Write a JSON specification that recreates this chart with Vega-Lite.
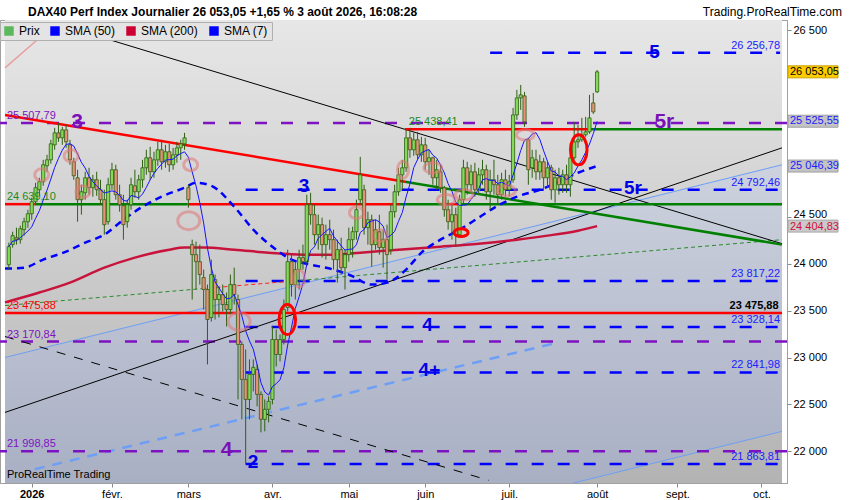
{
"$schema": "https://vega.github.io/schema/vega-lite/v6.json",
"width": 787, "height": 463,
"autosize": {"type": "none"},
"padding": {"left": 0, "top": 20, "right": 63, "bottom": 17},
"background": "white",
"config": {"view": {"stroke": "#a0a0a0", "strokeWidth": 1}, "font": "Liberation Sans", "text": {"font": "Liberation Sans"}},
"resolve": {"axis": {"x": "independent", "y": "independent"}},
"datasets": {
"candles": [
{"i":-6,"o":23993,"h":24228,"l":23940,"c":24185},
{"i":-5,"o":24207,"h":24345,"l":24175,"c":24303},
{"i":-4,"o":24281,"h":24388,"l":24207,"c":24260},
{"i":-3,"o":24260,"h":24410,"l":24217,"c":24377},
{"i":-2,"o":24367,"h":24495,"l":24303,"c":24452},
{"i":-1,"o":24452,"h":24580,"l":24388,"c":24537},
{"i":0,"o":24537,"h":24708,"l":24473,"c":24665},
{"i":1,"o":24665,"h":24868,"l":24633,"c":24815},
{"i":2,"o":24793,"h":24921,"l":24729,"c":24879},
{"i":3,"o":24879,"h":25113,"l":24836,"c":25060},
{"i":4,"o":25049,"h":25167,"l":24985,"c":25113},
{"i":5,"o":25113,"h":25327,"l":25071,"c":25284},
{"i":6,"o":25273,"h":25455,"l":25220,"c":25401},
{"i":7,"o":25401,"h":25508,"l":25305,"c":25348},
{"i":8,"o":25348,"h":25465,"l":25273,"c":25433},
{"i":9,"o":25433,"h":25487,"l":25241,"c":25305},
{"i":10,"o":25273,"h":25327,"l":25060,"c":25113},
{"i":11,"o":25092,"h":25135,"l":24900,"c":24943},
{"i":12,"o":24921,"h":25007,"l":24452,"c":24687},
{"i":13,"o":24687,"h":24847,"l":24527,"c":24772},
{"i":14,"o":24761,"h":24985,"l":24687,"c":24921},
{"i":15,"o":24921,"h":25028,"l":24740,"c":24815},
{"i":16,"o":24815,"h":24953,"l":24719,"c":24900},
{"i":17,"o":24900,"h":24985,"l":24729,"c":24793},
{"i":18,"o":24793,"h":24900,"l":24633,"c":24687},
{"i":19,"o":24687,"h":24793,"l":24313,"c":24420},
{"i":20,"o":24452,"h":24921,"l":24420,"c":24847},
{"i":21,"o":24847,"h":25081,"l":24793,"c":25007},
{"i":22,"o":25007,"h":25060,"l":24687,"c":24740},
{"i":23,"o":24740,"h":24847,"l":24559,"c":24633},
{"i":24,"o":24623,"h":24740,"l":24260,"c":24420},
{"i":25,"o":24452,"h":24687,"l":24388,"c":24633},
{"i":26,"o":24633,"h":24921,"l":24580,"c":24847},
{"i":27,"o":24836,"h":25007,"l":24708,"c":24772},
{"i":28,"o":24772,"h":24953,"l":24687,"c":24900},
{"i":29,"o":24900,"h":25113,"l":24815,"c":25028},
{"i":30,"o":25028,"h":25220,"l":24953,"c":25135},
{"i":31,"o":25135,"h":25252,"l":24900,"c":24985},
{"i":32,"o":24985,"h":25199,"l":24921,"c":25113},
{"i":33,"o":25113,"h":25305,"l":25049,"c":25220},
{"i":34,"o":25220,"h":25327,"l":25007,"c":25092},
{"i":35,"o":25092,"h":25273,"l":25028,"c":25199},
{"i":36,"o":25199,"h":25284,"l":24985,"c":25060},
{"i":37,"o":25060,"h":25241,"l":25007,"c":25167},
{"i":38,"o":25167,"h":25305,"l":25081,"c":25241},
{"i":39,"o":25241,"h":25327,"l":25113,"c":25284},
{"i":40,"o":25284,"h":25401,"l":25220,"c":25348},
{"i":41,"o":24815,"h":24847,"l":24601,"c":24687},
{"i":42,"o":24207,"h":24260,"l":23620,"c":24100},
{"i":43,"o":24100,"h":24239,"l":23727,"c":24025},
{"i":44,"o":24025,"h":24207,"l":23780,"c":23887},
{"i":45,"o":23855,"h":23940,"l":23513,"c":23727},
{"i":46,"o":23727,"h":23780,"l":22927,"c":23407},
{"i":47,"o":23428,"h":24047,"l":23385,"c":23887},
{"i":48,"o":23833,"h":23887,"l":23407,"c":23620},
{"i":49,"o":23620,"h":23759,"l":23428,"c":23673},
{"i":50,"o":23673,"h":23780,"l":23492,"c":23567},
{"i":51,"o":23567,"h":23695,"l":23332,"c":23513},
{"i":52,"o":23513,"h":23887,"l":23460,"c":23780},
{"i":53,"o":23780,"h":23961,"l":23567,"c":23673},
{"i":54,"o":23620,"h":23673,"l":22553,"c":23140},
{"i":55,"o":23140,"h":23172,"l":22340,"c":22767},
{"i":56,"o":22767,"h":23087,"l":21860,"c":22553},
{"i":57,"o":22553,"h":22980,"l":22340,"c":22820},
{"i":58,"o":22820,"h":22980,"l":22639,"c":22895},
{"i":59,"o":22873,"h":22927,"l":22479,"c":22607},
{"i":60,"o":22607,"h":22639,"l":22201,"c":22340},
{"i":61,"o":22340,"h":22553,"l":22212,"c":22447},
{"i":62,"o":22447,"h":22585,"l":22308,"c":22532},
{"i":63,"o":22553,"h":23332,"l":22500,"c":23193},
{"i":64,"o":23193,"h":23300,"l":22905,"c":23033},
{"i":65,"o":23033,"h":23247,"l":22959,"c":23193},
{"i":66,"o":23193,"h":23620,"l":23140,"c":23513},
{"i":67,"o":23535,"h":24153,"l":23492,"c":24025},
{"i":68,"o":24025,"h":24100,"l":23652,"c":23780},
{"i":69,"o":23780,"h":24025,"l":23620,"c":23940},
{"i":70,"o":23940,"h":24153,"l":23727,"c":24068},
{"i":71,"o":24068,"h":24207,"l":23940,"c":24025},
{"i":72,"o":24025,"h":24740,"l":23983,"c":24633},
{"i":73,"o":24633,"h":24761,"l":24420,"c":24527},
{"i":74,"o":24527,"h":24633,"l":24207,"c":24313},
{"i":75,"o":24313,"h":24527,"l":24153,"c":24420},
{"i":76,"o":24420,"h":24495,"l":24068,"c":24207},
{"i":77,"o":24207,"h":24420,"l":24047,"c":24313},
{"i":78,"o":24313,"h":24473,"l":24153,"c":24260},
{"i":79,"o":24260,"h":24367,"l":23940,"c":24047},
{"i":80,"o":24047,"h":24260,"l":23801,"c":24153},
{"i":81,"o":24153,"h":24281,"l":23887,"c":23961},
{"i":82,"o":23961,"h":24153,"l":23727,"c":24100},
{"i":83,"o":24100,"h":24388,"l":24025,"c":24260},
{"i":84,"o":24260,"h":24399,"l":24068,"c":24345},
{"i":85,"o":24345,"h":24687,"l":24260,"c":24580},
{"i":86,"o":24687,"h":25145,"l":24633,"c":24953},
{"i":87,"o":24793,"h":24847,"l":24313,"c":24388},
{"i":88,"o":24388,"h":24559,"l":24207,"c":24473},
{"i":89,"o":24473,"h":24527,"l":23972,"c":24207},
{"i":90,"o":24207,"h":24473,"l":24153,"c":24367},
{"i":91,"o":24345,"h":24527,"l":24100,"c":24175},
{"i":92,"o":24175,"h":24367,"l":23961,"c":24260},
{"i":93,"o":24260,"h":24420,"l":23833,"c":24100},
{"i":94,"o":24153,"h":24633,"l":24100,"c":24559},
{"i":95,"o":24559,"h":24847,"l":24495,"c":24772},
{"i":96,"o":24772,"h":25028,"l":24729,"c":24953},
{"i":97,"o":24953,"h":25113,"l":24793,"c":25028},
{"i":98,"o":25028,"h":25433,"l":24985,"c":25348},
{"i":99,"o":25348,"h":25455,"l":25135,"c":25220},
{"i":100,"o":25220,"h":25401,"l":25156,"c":25327},
{"i":101,"o":25327,"h":25412,"l":25113,"c":25167},
{"i":102,"o":25167,"h":25359,"l":25092,"c":25273},
{"i":103,"o":25273,"h":25348,"l":25007,"c":25092},
{"i":104,"o":25092,"h":25220,"l":24953,"c":25135},
{"i":105,"o":25135,"h":25145,"l":24847,"c":24921},
{"i":106,"o":24921,"h":25113,"l":24793,"c":25007},
{"i":107,"o":24985,"h":25060,"l":24761,"c":24815},
{"i":108,"o":24815,"h":24836,"l":24505,"c":24580},
{"i":109,"o":24580,"h":24687,"l":24367,"c":24452},
{"i":110,"o":24452,"h":24633,"l":24260,"c":24527},
{"i":111,"o":24527,"h":24601,"l":24185,"c":24313},
{"i":112,"o":24313,"h":24740,"l":24281,"c":24687},
{"i":113,"o":24687,"h":25113,"l":24633,"c":25028},
{"i":114,"o":25028,"h":25092,"l":24740,"c":24847},
{"i":115,"o":24847,"h":25060,"l":24772,"c":24985},
{"i":116,"o":24985,"h":25081,"l":24719,"c":24793},
{"i":117,"o":24793,"h":25028,"l":24740,"c":24953},
{"i":118,"o":24953,"h":25113,"l":24847,"c":25007},
{"i":119,"o":25007,"h":25060,"l":24687,"c":24772},
{"i":120,"o":24772,"h":25007,"l":24580,"c":24900},
{"i":121,"o":24900,"h":25113,"l":24740,"c":24847},
{"i":122,"o":24847,"h":24953,"l":24633,"c":24740},
{"i":123,"o":24740,"h":24975,"l":24687,"c":24900},
{"i":124,"o":24900,"h":25007,"l":24719,"c":24793},
{"i":125,"o":24793,"h":24953,"l":24719,"c":24879},
{"i":126,"o":24900,"h":25668,"l":24868,"c":25593},
{"i":127,"o":25593,"h":25860,"l":25540,"c":25775},
{"i":128,"o":25775,"h":25913,"l":25647,"c":25807},
{"i":129,"o":25796,"h":25839,"l":25465,"c":25519},
{"i":130,"o":25327,"h":25348,"l":24847,"c":25007},
{"i":131,"o":25028,"h":25220,"l":24921,"c":25135},
{"i":132,"o":25113,"h":25220,"l":24900,"c":24985},
{"i":133,"o":24985,"h":25167,"l":24900,"c":25092},
{"i":134,"o":25092,"h":25135,"l":24793,"c":24921},
{"i":135,"o":24921,"h":25092,"l":24815,"c":25028},
{"i":136,"o":25028,"h":25060,"l":24687,"c":24793},
{"i":137,"o":24793,"h":25007,"l":24655,"c":24921},
{"i":138,"o":24921,"h":25028,"l":24740,"c":24847},
{"i":139,"o":24847,"h":25007,"l":24761,"c":24953},
{"i":140,"o":24953,"h":25060,"l":24761,"c":24847},
{"i":141,"o":24847,"h":25220,"l":24719,"c":25135},
{"i":142,"o":25135,"h":25519,"l":25113,"c":25305},
{"i":143,"o":25305,"h":25487,"l":25241,"c":25327},
{"i":144,"o":25327,"h":25561,"l":25305,"c":25380},
{"i":145,"o":25380,"h":25572,"l":25359,"c":25412},
{"i":146,"o":25412,"h":25807,"l":25391,"c":25561},
{"i":147,"o":25721,"h":25828,"l":25604,"c":25625},
{"i":148,"o":25839,"h":26073,"l":25828,"c":26053.05}
],
"sma50": [
{"i":-7,"v":23951},{"i":-2,"v":23961},{"i":3,"v":24047},{"i":9,"v":24132},{"i":14,"v":24228},{"i":19,"v":24313},{"i":24,"v":24473},{"i":29,"v":24612},{"i":34,"v":24719},{"i":40,"v":24815},{"i":43,"v":24868},{"i":47,"v":24836},{"i":53,"v":24612},{"i":58,"v":24367},{"i":64,"v":24153},{"i":68,"v":24047},{"i":73,"v":23993},{"i":78,"v":23951},{"i":83,"v":23887},{"i":89,"v":23780},{"i":93,"v":23801},{"i":98,"v":23940},{"i":102,"v":24121},{"i":107,"v":24260},{"i":112,"v":24367},{"i":117,"v":24495},{"i":122,"v":24623},{"i":127,"v":24719},{"i":133,"v":24793},{"i":138,"v":24879},{"i":143,"v":24975},{"i":148,"v":25046.39}
],
"sma200": [
{"i":-7,"v":23590},{"i":2,"v":23695},{"i":10,"v":23801},{"i":19,"v":23961},{"i":27,"v":24068},{"i":36,"v":24153},{"i":40,"v":24175},{"i":45,"v":24175},{"i":53,"v":24153},{"i":62,"v":24121},{"i":71,"v":24100},{"i":78,"v":24100},{"i":86,"v":24121},{"i":96,"v":24153},{"i":107,"v":24185},{"i":117,"v":24217},{"i":127,"v":24260},{"i":135,"v":24303},{"i":143,"v":24356},{"i":148,"v":24404.83}
],
"channel": [{"i":-7,"top":23001,"bot":20153},{"i":196.4,"top":25060,"bot":22212}],
"purpleLevels": [{"v":25507.79,"t":"25 507,79"},{"v":23170.84,"t":"23 170,84"},{"v":21998.85,"t":"21 998,85"}],
"blueLevels": [{"v":26256.78,"a":120,"t":"26 256,78"},{"v":24792.46,"a":56,"t":"24 792,46"},{"v":23817.22,"a":56,"t":"23 817,22"},{"v":23328.14,"a":56,"t":"23 328,14"},{"v":22841.98,"a":56,"t":"22 841,98"},{"v":21863.81,"a":56,"t":"21 863,81"}],
"redSegs": [{"v":23475.88,"a":-7,"b":196.4},{"v":24639.1,"a":-7,"b":0.8},{"v":24639.1,"a":40.8,"b":96.4},{"v":24639.1,"a":108.5,"b":112.4},{"v":25438.41,"a":97.7,"b":145.5}],
"greenSegs": [{"v":24639.1,"a":0.8,"b":40.8},{"v":24639.1,"a":96.4,"b":108.5},{"v":24639.1,"a":112.4,"b":196.4},{"v":25438.41,"a":145.5,"b":196.4}],
"blackLines": [{"a":8.5,"va":26543,"b":196.4,"vb":24217},{"a":-7,"va":22414,"b":196.4,"vb":25241}],
"blackDashed": [{"a":-7,"va":23225,"b":119.6,"vb":21689}],
"redTrend": [{"a":-7,"va":25593,"b":97.7,"vb":24879}],
"greenTrend": [{"a":97.7,"va":24879,"b":196.4,"vb":24207}],
"greenDotted": [{"a":-7,"va":23556,"b":44.7,"vb":23737},{"a":66.7,"va":23812,"b":196.4,"vb":24260}],
"redDotted": [{"a":44.7,"va":23737,"b":66.7,"vb":23812}],
"blueChannel": [{"a":-7,"va":23001,"b":196.4,"vb":25060},{"a":-7,"va":20153,"b":196.4,"vb":22212}],
"blueDashedTrend": [{"a":0.8,"va":21807,"b":137.7,"vb":23161}],
"pinkLine": [{"a":-7,"va":26095,"b":2,"vb":26415}],
"pinkSmall": [{"i":2.6,"v":24953},{"i":10.3,"v":25156},{"i":13.4,"v":24772},{"i":41.6,"v":25060},{"i":91.2,"v":24303},{"i":85,"v":24548}],
"pinkFlat": [{"i":105,"v":25028},{"i":108.5,"v":24687},{"i":113.2,"v":24740},{"i":124.3,"v":24783},{"i":129.2,"v":25380}],
"pinkBig": [{"i":41.1,"v":24463},{"i":54.3,"v":23385}],
"pinkTall": [{"i":70,"v":23844},{"i":97.2,"v":25007}],
"redTall": [{"i":66.9,"v":23407},{"i":143.2,"v":25220}],
"redFlat": [{"i":112.4,"v":24335}],
"wavePurple": [{"i":11.9,"v":25519,"t":"3"},{"i":51,"v":22009,"t":"4"},{"i":165.6,"v":25519,"t":"5r"}],
"waveBlue": [{"i":163,"v":26266,"t":"5"},{"i":71.3,"v":24836,"t":"3"},{"i":157.4,"v":24815,"t":"5r"},{"i":103.6,"v":23353,"t":"4"},{"i":104.1,"v":22863,"t":"4+"},{"i":57.9,"v":21881,"t":"2"}],
"legendItems": [{"s":"Prix"},{"s":"SMA (50)"},{"s":"SMA (200)"},{"s":"SMA (7)"}],
"headers": [{"t":"DAX40 Perf Index Journalier 26 053,05 +1,65 % 3 août 2026, 16:08:28"}],
"lastTag": [{"v":26053.05,"t":"26 053,05"}],
"smaTagsBlue": [{"v":25525.55,"t":"25 525,55"},{"v":25046.39,"t":"25 046,39"}],
"smaTagsRed": [{"v":24404.83,"t":"24 404,83"}]
},
"layer": [
{"data": {"values": [{}]},
 "mark": {"type": "rect", "color": {"gradient": "linear", "x1": 0, "y1": 0, "x2": 0, "y2": 1, "stops": [{"offset": 0, "color": "#e7e7e7"}, {"offset": 1, "color": "#b3b3b3"}]}},
 "encoding": {
  "x": {"datum": -7, "type": "quantitative", "scale": {"domain": [-7, 196.4], "nice": false, "zero": false},
        "axis": {"title": null, "orient": "bottom", "values": [0,21,41,63,83,103,125,148,169,191], "labelExpr": "['2026','févr.','mars','avr.','mai','juin','juil.','août','sept.','oct.'][indexof([0,21,41,63,83,103,125,148,169,191], datum.value)]", "labelFontSize": 11, "labelFont": "Liberation Sans", "labelColor": "#000000", "labelFontWeight": {"condition": {"test": "datum.value == 0", "value": "bold"}, "value": "normal"}, "tickSize": 4, "tickColor": "#8a8a8a", "domainColor": "#a0a0a0", "labelPadding": 1, "grid": false, "labelFlush": false, "zindex": 1}},
  "x2": {"datum": 196.4},
  "y": {"datum": 21660, "type": "quantitative", "scale": {"domain": [21660, 26607], "nice": false, "zero": false},
        "axis": {"title": null, "orient": "right", "values": [22000,22500,23000,23500,24000,24500,26500], "labelExpr": "replace(format(datum.value, ','), ',', ' ')", "labelFontSize": 11, "labelFont": "Liberation Sans", "labelColor": "#000000", "labelBaseline": {"condition": {"test": "datum.value == 24500", "value": "alphabetic"}, "value": "middle"}, "tickSize": 4, "tickColor": "#8a8a8a", "domainColor": "#a0a0a0", "labelPadding": 2, "grid": false, "zindex": 0}},
  "y2": {"datum": 26607}
 }},
{"data": {"name": "channel"},
 "mark": {"type": "area", "clip": true, "color": {"gradient": "linear", "x1": 0, "y1": 0, "x2": 0, "y2": 1, "stops": [{"offset": 0, "color": "#cdd2de"}, {"offset": 0.7, "color": "#a8afc3"}, {"offset": 1, "color": "#a8afc3"}]}},
 "encoding": {"x": {"field": "i", "type": "quantitative", "axis": null}, "y": {"field": "top", "type": "quantitative", "axis": null}, "y2": {"field": "bot"}}},
{"data": {"name": "pinkLine"}, "mark": {"type": "rule", "clip": true, "color": "#e8a0a0", "strokeWidth": 1.5},
 "encoding": {"x": {"field": "a", "type": "quantitative", "axis": null}, "x2": {"field": "b"}, "y": {"field": "va", "type": "quantitative", "axis": null}, "y2": {"field": "vb"}}},
{"data": {"name": "blueChannel"}, "mark": {"type": "rule", "clip": true, "color": "#6e9ef5", "strokeWidth": 1},
 "encoding": {"x": {"field": "a", "type": "quantitative", "axis": null}, "x2": {"field": "b"}, "y": {"field": "va", "type": "quantitative", "axis": null}, "y2": {"field": "vb"}}},
{"data": {"name": "blueDashedTrend"}, "mark": {"type": "rule", "clip": true, "color": "#6e9ef5", "strokeWidth": 2.5, "strokeDash": [10, 8]},
 "encoding": {"x": {"field": "a", "type": "quantitative", "axis": null}, "x2": {"field": "b"}, "y": {"field": "va", "type": "quantitative", "axis": null}, "y2": {"field": "vb"}}},
{"data": {"name": "purpleLevels"}, "mark": {"type": "rule", "color": "#7d12c2", "strokeWidth": 2.5, "strokeDash": [12, 14]},
 "encoding": {"y": {"field": "v", "type": "quantitative", "axis": null}}},
{"data": {"name": "blueLevels"}, "mark": {"type": "rule", "color": "#0000ff", "strokeWidth": 2.5, "strokeDash": [12, 14]},
 "encoding": {"x": {"field": "a", "type": "quantitative", "axis": null}, "x2": {"datum": 195.9}, "y": {"field": "v", "type": "quantitative", "axis": null}}},
{"data": {"name": "greenDotted"}, "mark": {"type": "rule", "clip": true, "color": "#2a8a2a", "strokeWidth": 1, "strokeDash": [4, 3]},
 "encoding": {"x": {"field": "a", "type": "quantitative", "axis": null}, "x2": {"field": "b"}, "y": {"field": "va", "type": "quantitative", "axis": null}, "y2": {"field": "vb"}}},
{"data": {"name": "redDotted"}, "mark": {"type": "rule", "clip": true, "color": "#ff2020", "strokeWidth": 1, "strokeDash": [4, 3]},
 "encoding": {"x": {"field": "a", "type": "quantitative", "axis": null}, "x2": {"field": "b"}, "y": {"field": "va", "type": "quantitative", "axis": null}, "y2": {"field": "vb"}}},
{"data": {"name": "blackLines"}, "mark": {"type": "rule", "clip": true, "color": "#000000", "strokeWidth": 1},
 "encoding": {"x": {"field": "a", "type": "quantitative", "axis": null}, "x2": {"field": "b"}, "y": {"field": "va", "type": "quantitative", "axis": null}, "y2": {"field": "vb"}}},
{"data": {"name": "blackDashed"}, "mark": {"type": "rule", "clip": true, "color": "#000000", "strokeWidth": 1, "strokeDash": [9, 9]},
 "encoding": {"x": {"field": "a", "type": "quantitative", "axis": null}, "x2": {"field": "b"}, "y": {"field": "va", "type": "quantitative", "axis": null}, "y2": {"field": "vb"}}},
{"data": {"name": "redSegs"}, "mark": {"type": "rule", "clip": true, "color": "#ff0000", "strokeWidth": 2.5},
 "encoding": {"x": {"field": "a", "type": "quantitative", "axis": null}, "x2": {"field": "b"}, "y": {"field": "v", "type": "quantitative", "axis": null}}},
{"data": {"name": "greenSegs"}, "mark": {"type": "rule", "clip": true, "color": "#008000", "strokeWidth": 2.5},
 "encoding": {"x": {"field": "a", "type": "quantitative", "axis": null}, "x2": {"field": "b"}, "y": {"field": "v", "type": "quantitative", "axis": null}}},
{"data": {"name": "redTrend"}, "mark": {"type": "rule", "clip": true, "color": "#ff0000", "strokeWidth": 2.5},
 "encoding": {"x": {"field": "a", "type": "quantitative", "axis": null}, "x2": {"field": "b"}, "y": {"field": "va", "type": "quantitative", "axis": null}, "y2": {"field": "vb"}}},
{"data": {"name": "greenTrend"}, "mark": {"type": "rule", "clip": true, "color": "#008000", "strokeWidth": 2.5},
 "encoding": {"x": {"field": "a", "type": "quantitative", "axis": null}, "x2": {"field": "b"}, "y": {"field": "va", "type": "quantitative", "axis": null}, "y2": {"field": "vb"}}},
{"data": {"name": "sma200"}, "mark": {"type": "line", "clip": true, "color": "#c8143c", "strokeWidth": 2.5, "interpolate": "monotone"},
 "encoding": {"x": {"field": "i", "type": "quantitative", "axis": null}, "y": {"field": "v", "type": "quantitative", "axis": null}}},
{"data": {"name": "sma50"}, "mark": {"type": "line", "clip": true, "color": "#0000ff", "strokeWidth": 2.5, "strokeDash": [7, 5], "interpolate": "monotone"},
 "encoding": {"x": {"field": "i", "type": "quantitative", "axis": null}, "y": {"field": "v", "type": "quantitative", "axis": null}}},
{"data": {"name": "candles"}, "mark": {"type": "rule", "color": "#2e6012", "strokeWidth": 1},
 "encoding": {"x": {"field": "i", "type": "quantitative", "axis": null}, "y": {"field": "l", "type": "quantitative", "axis": null}, "y2": {"field": "h"}}},
{"data": {"name": "candles"}, "mark": {"type": "bar", "width": 3.2, "stroke": "#2e6012", "strokeWidth": 0.8},
 "encoding": {"x": {"field": "i", "type": "quantitative", "axis": null}, "y": {"field": "o", "type": "quantitative", "axis": null}, "y2": {"field": "c"},
  "fill": {"condition": {"test": "datum.c >= datum.o", "value": "#84d95a"}, "value": "#e8907a"}}},
{"data": {"name": "candles"},
 "transform": [{"window": [{"op": "mean", "field": "c", "as": "sma7"}], "frame": [-6, 0], "sort": [{"field": "i", "order": "ascending"}]}],
 "mark": {"type": "line", "color": "#1414ff", "strokeWidth": 1},
 "encoding": {"x": {"field": "i", "type": "quantitative", "axis": null}, "y": {"field": "sma7", "type": "quantitative", "axis": null}}},
{"data": {"name": "pinkSmall"}, "mark": {"type": "point", "shape": "M -1 0 A 1 0.85 0 1 0 1 0 A 1 0.85 0 1 0 -1 0 Z", "size": 196, "filled": false, "stroke": "#e07878", "strokeWidth": 3, "opacity": 0.55},
 "encoding": {"x": {"field": "i", "type": "quantitative", "axis": null}, "y": {"field": "v", "type": "quantitative", "axis": null}}},
{"data": {"name": "pinkFlat"}, "mark": {"type": "point", "shape": "M -1 0 A 1 0.6 0 1 0 1 0 A 1 0.6 0 1 0 -1 0 Z", "size": 310, "filled": false, "stroke": "#e07878", "strokeWidth": 3, "opacity": 0.55},
 "encoding": {"x": {"field": "i", "type": "quantitative", "axis": null}, "y": {"field": "v", "type": "quantitative", "axis": null}}},
{"data": {"name": "pinkBig"}, "mark": {"type": "point", "shape": "M -1 0 A 1 0.82 0 1 0 1 0 A 1 0.82 0 1 0 -1 0 Z", "size": 484, "filled": false, "stroke": "#e07878", "strokeWidth": 3, "opacity": 0.55},
 "encoding": {"x": {"field": "i", "type": "quantitative", "axis": null}, "y": {"field": "v", "type": "quantitative", "axis": null}}},
{"data": {"name": "pinkTall"}, "mark": {"type": "point", "shape": "M 0 -1 A 0.65 1 0 1 0 0 1 A 0.65 1 0 1 0 0 -1 Z", "size": 289, "filled": false, "stroke": "#e07878", "strokeWidth": 3, "opacity": 0.55},
 "encoding": {"x": {"field": "i", "type": "quantitative", "axis": null}, "y": {"field": "v", "type": "quantitative", "axis": null}}},
{"data": {"name": "redTall"}, "mark": {"type": "point", "shape": "M 0 -1 A 0.55 1 0 1 0 0 1 A 0.55 1 0 1 0 0 -1 Z", "size": 900, "filled": false, "stroke": "#ff0000", "strokeWidth": 3, "opacity": 1},
 "encoding": {"x": {"field": "i", "type": "quantitative", "axis": null}, "y": {"field": "v", "type": "quantitative", "axis": null}}},
{"data": {"name": "redFlat"}, "mark": {"type": "point", "shape": "M -1 0 A 1 0.55 0 1 0 1 0 A 1 0.55 0 1 0 -1 0 Z", "size": 196, "filled": false, "stroke": "#ff0000", "strokeWidth": 3, "opacity": 1},
 "encoding": {"x": {"field": "i", "type": "quantitative", "axis": null}, "y": {"field": "v", "type": "quantitative", "axis": null}}},
{"data": {"name": "purpleLevels"}, "mark": {"type": "text", "align": "left", "baseline": "bottom", "dy": -2, "fontSize": 11, "color": "#7d12c2"},
 "encoding": {"x": {"datum": -6.5, "type": "quantitative", "axis": null}, "y": {"field": "v", "type": "quantitative", "axis": null}, "text": {"field": "t"}}},
{"data": {"name": "blueLevels"}, "mark": {"type": "text", "align": "right", "baseline": "bottom", "dy": -2, "fontSize": 11, "color": "#2020ff"},
 "encoding": {"x": {"datum": 195.9, "type": "quantitative", "axis": null}, "y": {"field": "v", "type": "quantitative", "axis": null}, "text": {"field": "t"}}},
{"data": {"values": [{"i": -6.5, "v": 24639.1, "t": "24 639,10"}, {"i": 98.7, "v": 25438.41, "t": "25 438,41"}]},
 "mark": {"type": "text", "align": "left", "baseline": "bottom", "dy": -2, "fontSize": 11, "color": "#1a8a1a"},
 "encoding": {"x": {"field": "i", "type": "quantitative", "axis": null}, "y": {"field": "v", "type": "quantitative", "axis": null}, "text": {"field": "t"}}},
{"data": {"values": [{"v": 23475.88, "t": "23 475,88"}]},
 "mark": {"type": "text", "align": "left", "baseline": "bottom", "dy": -2, "fontSize": 11, "color": "#ff0000"},
 "encoding": {"x": {"datum": -6.5, "type": "quantitative", "axis": null}, "y": {"field": "v", "type": "quantitative", "axis": null}, "text": {"field": "t"}}},
{"data": {"values": [{"v": 23475.88, "t": "23 475,88"}]},
 "mark": {"type": "text", "align": "right", "baseline": "bottom", "dy": -2, "fontSize": 11, "fontWeight": "bold", "color": "#000000"},
 "encoding": {"x": {"datum": 195.5, "type": "quantitative", "axis": null}, "y": {"field": "v", "type": "quantitative", "axis": null}, "text": {"field": "t"}}},
{"data": {"name": "wavePurple"}, "mark": {"type": "text", "align": "center", "baseline": "middle", "fontSize": 21, "fontWeight": "bold", "color": "#7a10b8"},
 "encoding": {"x": {"field": "i", "type": "quantitative", "axis": null}, "y": {"field": "v", "type": "quantitative", "axis": null}, "text": {"field": "t"}}},
{"data": {"name": "waveBlue"}, "mark": {"type": "text", "align": "center", "baseline": "middle", "fontSize": 19, "fontWeight": "bold", "color": "#0000e6"},
 "encoding": {"x": {"field": "i", "type": "quantitative", "axis": null}, "y": {"field": "v", "type": "quantitative", "axis": null}, "text": {"field": "t"}}},
{"data": {"values": [{"t": "ProRealTime Trading"}]},
 "mark": {"type": "text", "align": "left", "baseline": "middle", "fontSize": 11, "color": "#000000"},
 "encoding": {"x": {"datum": -6.5, "type": "quantitative", "axis": null}, "y": {"datum": 21743, "type": "quantitative", "axis": null}, "text": {"field": "t"}}},
{"data": {"name": "headers"},
 "mark": {"type": "text", "align": "left", "baseline": "middle", "dx": 23, "fontSize": 12, "fontWeight": "bold", "color": "#000000", "clip": false},
 "encoding": {"x": {"datum": -7, "type": "quantitative", "axis": null}, "y": {"datum": 26692, "type": "quantitative", "axis": null}, "text": {"field": "t"}}},
{"data": {"values": [{"t": "Trading.ProRealTime.com"}]},
 "mark": {"type": "text", "align": "right", "baseline": "middle", "dx": 60, "fontSize": 12, "color": "#000000", "clip": false},
 "encoding": {"x": {"datum": 196.4, "type": "quantitative", "axis": null}, "y": {"datum": 26692, "type": "quantitative", "axis": null}, "text": {"field": "t"}}},
{"data": {"name": "legendItems"}, "mark": {"type": "square", "opacity": 0},
 "encoding": {"x": {"datum": 0, "type": "quantitative", "axis": null}, "y": {"datum": 24000, "type": "quantitative", "axis": null},
  "color": {"field": "s", "type": "nominal", "scale": {"domain": ["Prix", "SMA (50)", "SMA (200)", "SMA (7)"], "range": ["#5cb85c", "#0000ff", "#cc0033", "#0000ff"]},
   "legend": {"title": null, "orient": "none", "legendX": 0, "legendY": 2, "direction": "horizontal", "columns": 4, "symbolType": "square", "symbolSize": 90, "symbolStrokeWidth": 0, "labelFontSize": 12, "labelFont": "Liberation Sans", "labelColor": "#000000", "labelOffset": 4, "columnPadding": 9, "padding": 3, "fillColor": "#e4e4e4", "strokeColor": "#b0b0b0"}}}},
{"data": {"name": "lastTag"}, "mark": {"type": "point", "shape": "M -1 -0.24 L 1 -0.24 L 1 0.24 L -1 0.24 Z", "size": 2500, "filled": true, "fill": "#ffcc00", "stroke": "#c8a000", "strokeWidth": 1, "opacity": 1, "xOffset": 31, "clip": false},
 "encoding": {"x": {"datum": 196.4, "type": "quantitative", "axis": null}, "y": {"field": "v", "type": "quantitative", "axis": null}}},
{"data": {"name": "lastTag"}, "mark": {"type": "text", "align": "left", "baseline": "middle", "dx": 8, "fontSize": 11, "color": "#000000", "clip": false},
 "encoding": {"x": {"datum": 196.4, "type": "quantitative", "axis": null}, "y": {"field": "v", "type": "quantitative", "axis": null}, "text": {"field": "t"}}},
{"data": {"name": "smaTagsBlue"}, "mark": {"type": "point", "shape": "M -1 -0.24 L 1 -0.24 L 1 0.24 L -1 0.24 Z", "size": 2500, "filled": true, "fill": "#c4c4c4", "stroke": "#a0a0a0", "strokeWidth": 1, "opacity": 1, "xOffset": 31, "clip": false},
 "encoding": {"x": {"datum": 196.4, "type": "quantitative", "axis": null}, "y": {"field": "v", "type": "quantitative", "axis": null}}},
{"data": {"name": "smaTagsBlue"}, "mark": {"type": "text", "align": "left", "baseline": "middle", "dx": 8, "fontSize": 11, "color": "#1a1aff", "clip": false},
 "encoding": {"x": {"datum": 196.4, "type": "quantitative", "axis": null}, "y": {"field": "v", "type": "quantitative", "axis": null}, "text": {"field": "t"}}},
{"data": {"name": "smaTagsRed"}, "mark": {"type": "point", "shape": "M -1 -0.24 L 1 -0.24 L 1 0.24 L -1 0.24 Z", "size": 2500, "filled": true, "fill": "#cacaca", "stroke": "#a8a8a8", "strokeWidth": 1, "opacity": 1, "xOffset": 31, "clip": false},
 "encoding": {"x": {"datum": 196.4, "type": "quantitative", "axis": null}, "y": {"field": "v", "type": "quantitative", "axis": null}}},
{"data": {"name": "smaTagsRed"}, "mark": {"type": "text", "align": "left", "baseline": "middle", "dx": 8, "dy": 1, "fontSize": 11, "color": "#d01040", "clip": false},
 "encoding": {"x": {"datum": 196.4, "type": "quantitative", "axis": null}, "y": {"field": "v", "type": "quantitative", "axis": null}, "text": {"field": "t"}}}
]
}
